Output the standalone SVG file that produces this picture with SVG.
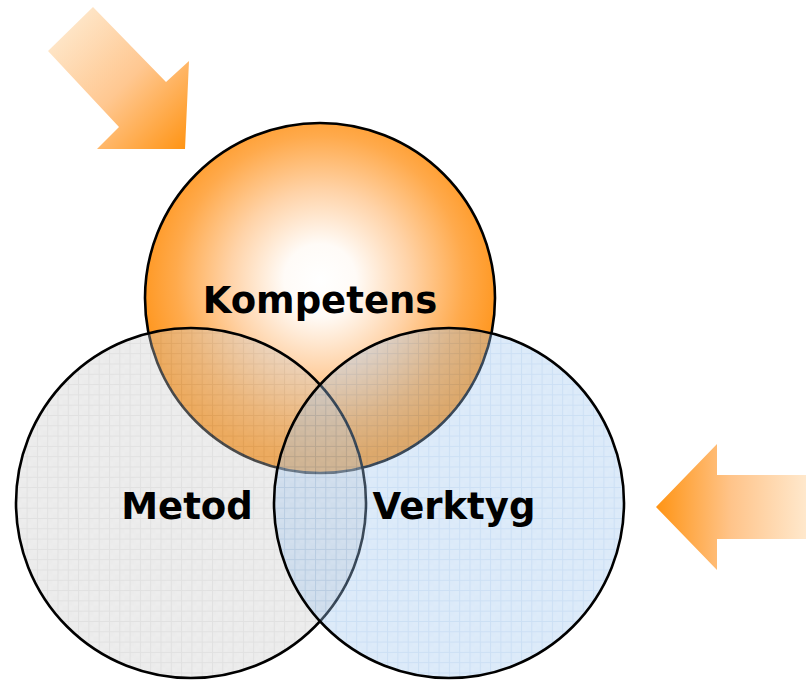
<svg xmlns="http://www.w3.org/2000/svg" width="806" height="680" viewBox="0 0 806 680">
  <defs>
    <radialGradient id="gKomp" gradientUnits="userSpaceOnUse" cx="320" cy="280" r="180">
      <stop offset="0" stop-color="#FFFFFF"/>
      <stop offset="0.2" stop-color="#FFFBF7"/>
      <stop offset="0.5" stop-color="#FFD3A8"/>
      <stop offset="0.8" stop-color="#FFAA4C"/>
      <stop offset="1" stop-color="#FF9720"/>
    </radialGradient>
    <linearGradient id="gArrowTL" gradientUnits="userSpaceOnUse" x1="60" y1="25" x2="185" y2="149">
      <stop offset="0" stop-color="#FEE8CC"/>
      <stop offset="0.5" stop-color="#FFC790"/>
      <stop offset="1" stop-color="#FF9414"/>
    </linearGradient>
    <linearGradient id="gArrowR" gradientUnits="userSpaceOnUse" x1="656" y1="0" x2="806" y2="0">
      <stop offset="0" stop-color="#FF9414"/>
      <stop offset="0.5" stop-color="#FFC48A"/>
      <stop offset="1" stop-color="#FFE8CC"/>
    </linearGradient>
    <pattern id="pGray" patternUnits="userSpaceOnUse" width="10.3" height="10.3" x="6" y="3">
      <rect width="10.3" height="10.3" fill="#CDCDCD"/>
      <rect width="5.15" height="5.15" fill="#C6C6C6" opacity="0.35"/>
      <rect x="5.15" y="5.15" width="5.15" height="5.15" fill="#C6C6C6" opacity="0.35"/>
      <path d="M0 0.5H10.3M0.5 0V10.3" stroke="#ADADAD" stroke-width="1" fill="none"/>
    </pattern>
    <pattern id="pBlue" patternUnits="userSpaceOnUse" width="10.3" height="10.3" x="6" y="3">
      <rect width="10.3" height="10.3" fill="#A3C8F0"/>
      <rect width="5.15" height="5.15" fill="#98BFEA" opacity="0.35"/>
      <rect x="5.15" y="5.15" width="5.15" height="5.15" fill="#98BFEA" opacity="0.35"/>
      <path d="M0 0.5H10.3M0.5 0V10.3" stroke="#74A9E2" stroke-width="1" fill="none"/>
    </pattern>
    <style>
      .ring { stroke: #000; stroke-width: 2.6; }
      .lbl { font-family: "DejaVu Sans", Verdana, sans-serif; font-weight: bold; font-size: 37px; fill: #000; text-anchor: middle; }
    </style>
  </defs>
  <rect width="806" height="680" fill="#FFFFFF"/>

  <g id="arrows">
    <polygon points="48,51 93,7 166,82 189,61 185,149 97,149 119,127" fill="url(#gArrowTL)"/>
    <polygon points="656,507 717,444 717,475 806,475 806,539 717,539 717,570" fill="url(#gArrowR)"/>
  </g>

  <g id="kompetens">
    <circle cx="320" cy="298" r="175" fill="url(#gKomp)" class="ring"/>
  </g>
  <g id="metod">
    <circle cx="191" cy="503" r="175" fill="url(#pGray)" opacity="0.37"/>
    <circle cx="191" cy="503" r="175" fill="none" class="ring"/>
  </g>
  <g id="verktyg">
    <circle cx="449" cy="503" r="175" fill="url(#pBlue)" opacity="0.37"/>
    <circle cx="449" cy="503" r="175" fill="none" class="ring"/>
  </g>

  <g id="labels">
    <text class="lbl" x="320" y="313">Kompetens</text>
    <text class="lbl" x="187" y="519">Metod</text>
    <text class="lbl" x="454" y="519">Verktyg</text>
  </g>
</svg>
